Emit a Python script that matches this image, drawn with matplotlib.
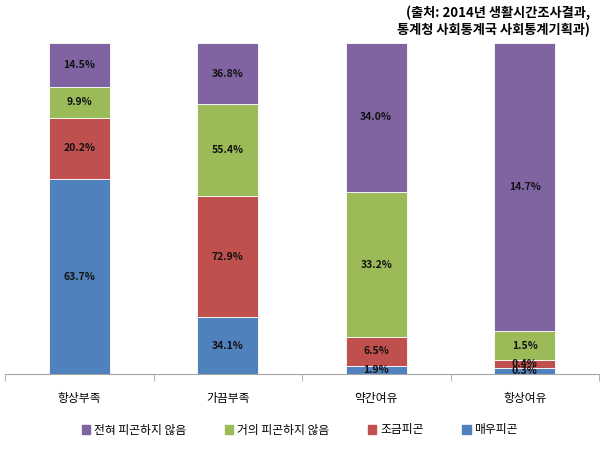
import numpy as np
import matplotlib
matplotlib.use("Agg")
import matplotlib.pyplot as plt
from matplotlib.patches import Patch

plt.rcParams['font.family'] = ['Noto Sans CJK KR', 'DejaVu Sans']

# data
categories = ['항상부족', '가끔부족', '약간여유', '항상여유']
series_names = ['매우피곤', '조금피곤', '거의 피곤하지 않음', '전혀 피곤하지 않음']
very_tired = [63.7, 34.1, 1.9, 0.3]
bit_tired = [20.2, 72.9, 6.5, 0.4]
hardly_tired = [9.9, 55.4, 33.2, 1.5]
not_tired = [14.5, 36.8, 34.0, 14.7]
colors = ['#4F81BD', '#C0504D', '#9BBB59', '#8064A2']

values = np.array([very_tired, bit_tired, hardly_tired, not_tired])
shares = values / values.sum(axis=0)

fig = plt.figure(figsize=(6, 4.49), dpi=100)
ax = fig.add_axes([5/600, 1 - 374/449, 594/600, 331/449])

x = np.arange(len(categories))
bottom = np.zeros(len(categories))
for i in range(len(series_names)):
    ax.bar(x, shares[i], 0.41, bottom=bottom, color=colors[i], edgecolor='white', linewidth=0.6)
    for j in range(len(categories)):
        ax.text(x[j], bottom[j] + shares[i][j] / 2, f'{values[i][j]:.1f}%',
                ha='center', va='center', fontsize=7.5, fontweight='bold', color='#111111')
    bottom += shares[i]

ax.set_xlim(-0.5, len(categories) - 0.5)
ax.set_ylim(0, 1)
ax.set_yticks([])
for s in ['left', 'right', 'top']:
    ax.spines[s].set_visible(False)
ax.spines['bottom'].set_color('#A6A6A6')
ax.set_xticks(np.arange(len(categories) + 1) - 0.5, minor=True)
ax.tick_params(axis='x', which='minor', length=5, color='#A6A6A6')
ax.set_xticks(x)
ax.set_xticklabels(categories, fontsize=8.5)
ax.tick_params(axis='x', which='major', length=0, pad=13)

handles = [Patch(color=colors[i], label=series_names[i]) for i in [3, 2, 1, 0]]
fig.legend(handles=handles, loc='center', bbox_to_anchor=(0.5, 1 - 430/449), ncol=4,
           frameon=False, fontsize=8.5, handlelength=0.7, handleheight=0.7,
           handletextpad=0.3, columnspacing=3.3)

fig.text(590/600, 1 - 13/449, '(출처: 2014년 생활시간조사결과,', ha='right', va='center',
         fontsize=9.5, fontweight='bold')
fig.text(590/600, 1 - 30/449, '통계청 사회통계국 사회통계기획과)', ha='right', va='center',
         fontsize=9.5, fontweight='bold')

fig.savefig('out.png', dpi=100)
